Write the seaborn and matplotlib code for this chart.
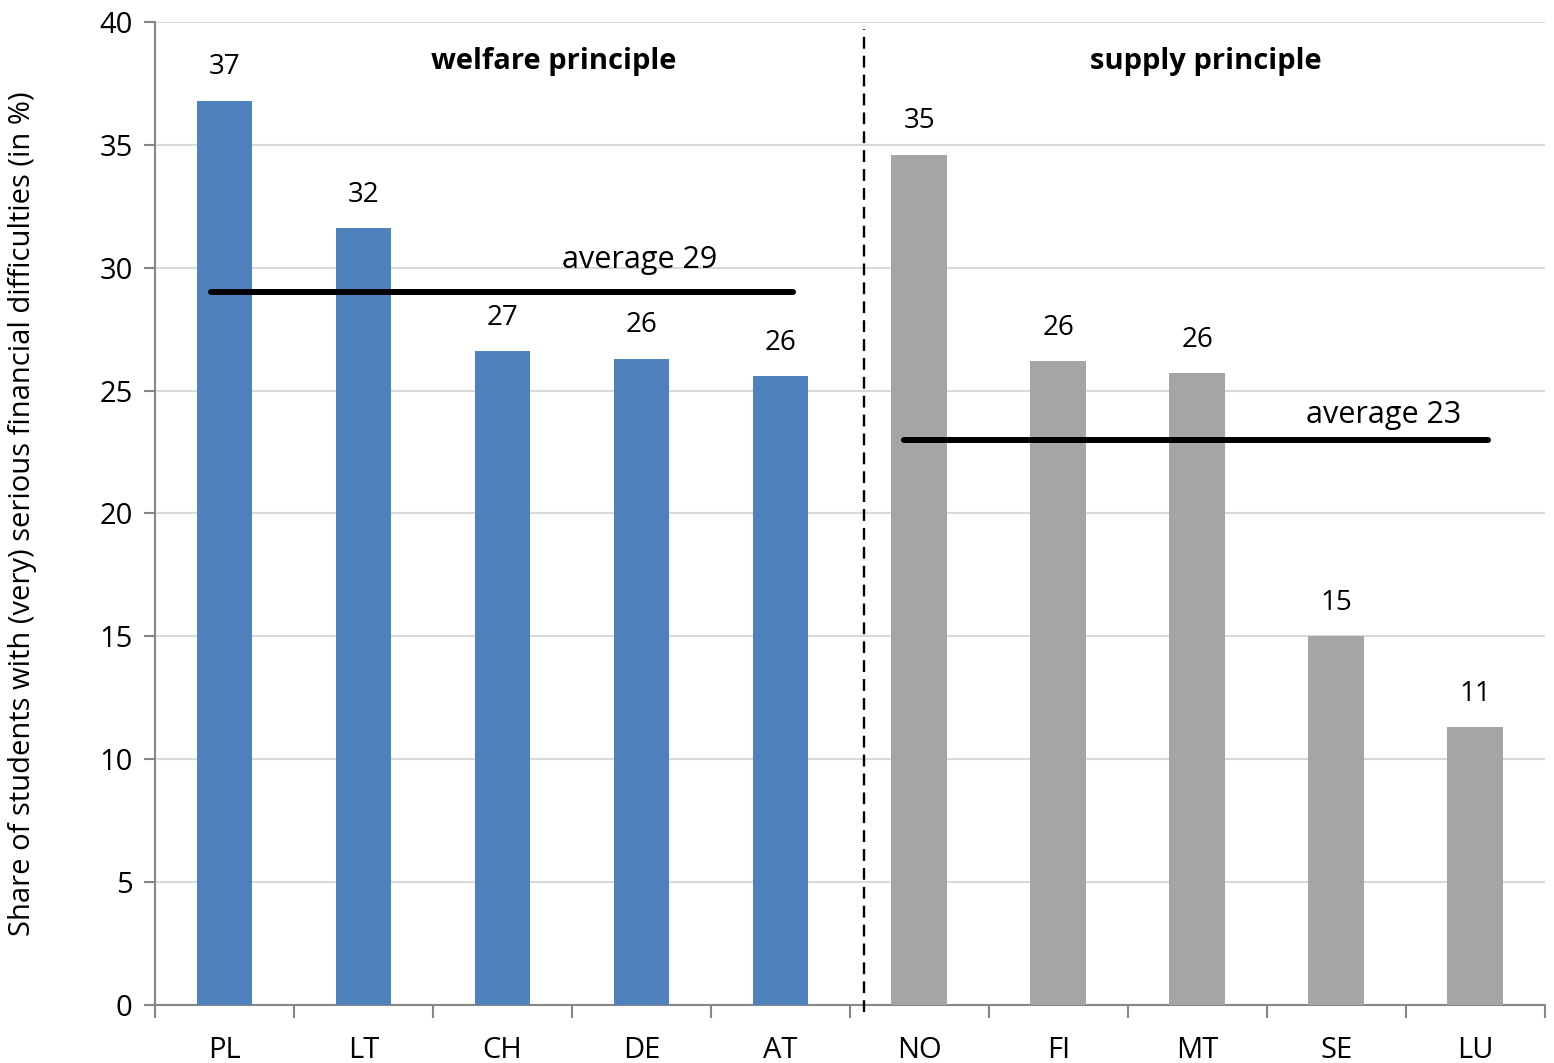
import matplotlib
matplotlib.use("Agg")
import matplotlib.pyplot as plt
import seaborn as sns
import pandas as pd
import numpy as np

# Share of students with (very) serious financial difficulties, by country
countries = ["PL", "LT", "CH", "DE", "AT", "NO", "FI", "MT", "SE", "LU"]
shares = [36.8, 31.6, 26.6, 26.3, 25.6, 34.6, 26.2, 25.7, 15.0, 11.3]
groups = ["welfare principle"] * 5 + ["supply principle"] * 5
group_averages = {"welfare principle": 29, "supply principle": 23}
group_colors = {"welfare principle": "#4f81bd", "supply principle": "#a5a5a5"}

df = pd.DataFrame({"country": countries, "share": shares, "group": groups})

sns.set_theme(style="white")
plt.rcParams["font.family"] = ["Open Sans", "DejaVu Sans"]
plt.rcParams["text.color"] = "black"

fig = plt.figure(figsize=(15.54, 10.63), dpi=100)
ax = fig.add_axes([0.0997, 0.0546, 0.8943, 0.9247])

sns.barplot(data=df, x="country", y="share", hue="group", order=countries,
            palette=group_colors, dodge=False, width=0.4, legend=False,
            saturation=1, linewidth=0, ax=ax, zorder=3)

# value labels above bars
for i, v in enumerate(shares):
    ax.annotate(f"{v:.0f}", (i, v), xytext=(0, 24), textcoords="offset points",
                ha="center", va="center", fontsize=20, color="black")

# group averages
ax.plot([-0.1, 4.09], [group_averages["welfare principle"]] * 2,
        color="black", lw=4.3, zorder=4, solid_capstyle="round")
ax.plot([4.89, 9.09], [group_averages["supply principle"]] * 2,
        color="black", lw=4.3, zorder=4, solid_capstyle="round")
ax.text(2.99, 30.3, "average 29", ha="center", va="center", fontsize=22,
        color="black")
ax.text(8.34, 24.0, "average 23", ha="center", va="center", fontsize=22,
        color="black")

# group titles
ax.text(2.37, 38.4, "welfare principle", ha="center", va="center",
        fontsize=21, fontweight="bold", color="black")
ax.text(7.06, 38.4, "supply principle", ha="center", va="center",
        fontsize=21, fontweight="bold", color="black")

# separator between the two groups
ax.plot([4.6, 4.6], [-0.3, 39.7], color="black", lw=1.7,
        ls=(0, (5, 3)), zorder=5, clip_on=False)

# axes styling
ax.set_ylim(0, 40)
ax.set_xlim(-0.5, 9.5)
ax.set_yticks(np.arange(0, 41, 5))
ax.yaxis.grid(True, color="#d9d9d9", lw=1.5, zorder=0)
ax.xaxis.grid(False)
for side in ["top", "right"]:
    ax.spines[side].set_visible(False)
for side in ["left", "bottom"]:
    ax.spines[side].set_color("#868686")
    ax.spines[side].set_linewidth(1.5)

ax.set_xticks(range(len(countries)))
ax.set_xticklabels(countries)
ax.set_xticks(np.arange(-0.5, 10, 1), minor=True)
ax.tick_params(axis="x", which="major", length=0, pad=22, labelsize=21,
               labelcolor="black")
ax.tick_params(axis="x", which="minor", length=9, width=1.5, color="#868686",
               bottom=True)
ax.tick_params(axis="y", which="major", length=8, width=1.5, color="#868686",
               left=True, labelsize=21, labelcolor="black", pad=8)

ax.set_xlabel("")
ax.set_ylabel("Share of students with (very) serious financial difficulties (in %)",
              fontsize=21, color="black")
ax.yaxis.set_label_coords(-0.085, 0.5)

fig.savefig("out.png", dpi=100)
